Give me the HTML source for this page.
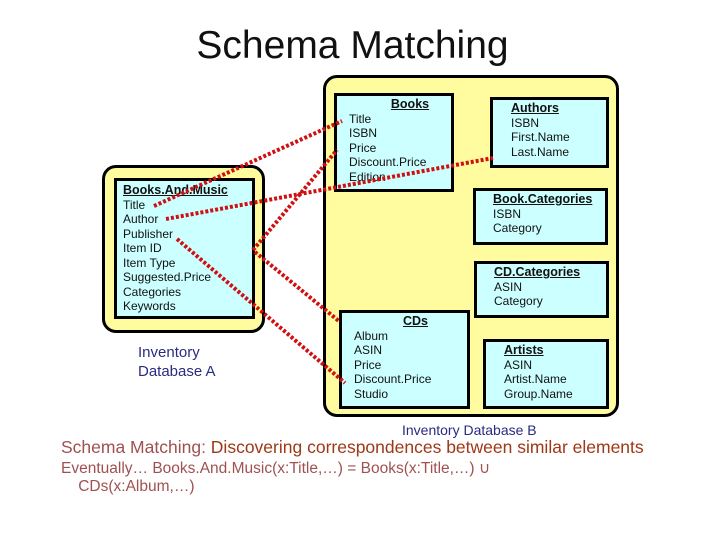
<!DOCTYPE html>
<html><head><style>
body{margin:0;width:720px;height:540px;background:#fff;position:relative;overflow:hidden;font-family:"Liberation Sans",sans-serif}
.a{position:absolute}
.y{position:absolute;background:#fffca0;border:3px solid #000;border-radius:14px;box-sizing:border-box}
.c{position:absolute;background:#ccffff;border:3px solid #000;box-sizing:border-box;font-size:12px;line-height:14.5px;padding:1px 0 0 12px;color:#111}
.c b{text-decoration:underline;font-size:12.5px}
</style></head><body>
<div class="a" style="left:0;width:705px;top:24px;text-align:center;font-size:39px;color:#111">Schema Matching</div>
<div class="y" style="left:102px;top:165px;width:163px;height:168px"></div>
<div class="c" style="left:114px;top:178px;width:141px;height:141px;padding-left:6px;padding-top:2px"><b>Books.And.Music</b><br>Title<br>Author<br>Publisher<br>Item ID<br>Item Type<br>Suggested.Price<br>Categories<br>Keywords</div>
<div class="a" style="left:138px;top:343px;font-size:15px;line-height:19px;color:#2a2a80">Inventory<br>Database A</div>
<div class="y" style="left:323px;top:75px;width:296px;height:342px"></div>
<div class="c" style="left:334px;top:93px;width:120px;height:99px;padding-left:12px"><div style="text-align:center;padding-left:20px"><b>Books</b></div>Title<br>ISBN<br>Price<br>Discount.Price<br>Edition</div>
<div class="c" style="left:490px;top:97px;width:119px;height:71px;padding-left:18px"><b>Authors</b><br>ISBN<br>First.Name<br>Last.Name</div>
<div class="c" style="left:473px;top:188px;width:135px;height:57px;padding-left:17px"><b>Book.Categories</b><br>ISBN<br>Category</div>
<div class="c" style="left:474px;top:261px;width:135px;height:57px;padding-left:17px"><b>CD.Categories</b><br>ASIN<br>Category</div>
<div class="c" style="left:339px;top:310px;width:131px;height:99px;padding-left:12px"><div style="text-align:center;padding-left:10px"><b>CDs</b></div>Album<br>ASIN<br>Price<br>Discount.Price<br>Studio</div>
<div class="c" style="left:483px;top:339px;width:126px;height:70px;padding-left:18px"><b>Artists</b><br>ASIN<br>Artist.Name<br>Group.Name</div>
<svg class="a" style="left:0;top:0" width="720" height="540"><g stroke="#d01010" stroke-width="4" stroke-dasharray="3,2" fill="none">
<line x1="154" y1="206" x2="342" y2="121"/>
<line x1="166" y1="219" x2="493" y2="158"/>
<line x1="253" y1="250" x2="337" y2="150"/>
<line x1="255" y1="252" x2="340" y2="322"/>
<line x1="177" y1="239" x2="345" y2="383"/>
</g></svg>
<div class="a" style="left:402px;top:422px;font-size:14px;color:#2a2a80">Inventory Database B</div>
<div class="a" style="left:61px;top:437px;font-size:17.5px;color:#a05050;white-space:nowrap">Schema Matching: <span style="color:#a03818">Discovering correspondences between similar elements</span></div>
<div class="a" style="left:61px;top:460px;font-size:15.5px;line-height:18px;color:#a05050;white-space:nowrap">Eventually… Books.And.Music(x:Title,…) = Books(x:Title,…) ∪<br>&nbsp;&nbsp;&nbsp;&nbsp;CDs(x:Album,…)</div>
</body></html>
